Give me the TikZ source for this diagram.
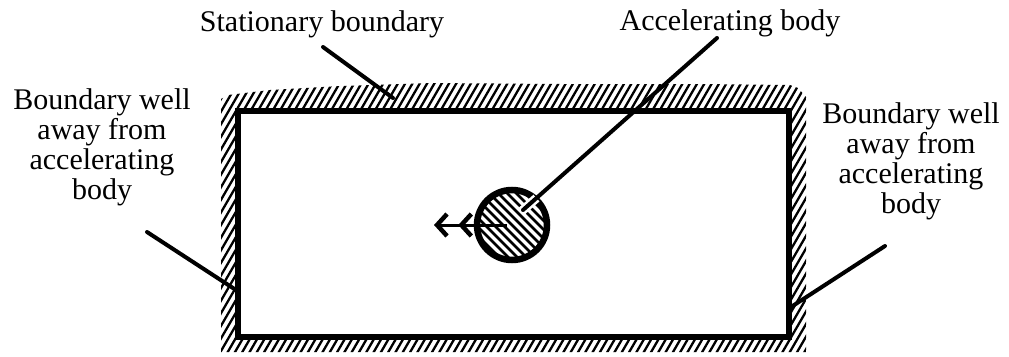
\documentclass[tikz,border=0pt]{standalone}
\usepackage{fontspec}
\setmainfont{Liberation Serif}
\usetikzlibrary{arrows.meta,calc}
\begin{document}
\begin{tikzpicture}[x=1pt,y=-1pt,
  lbl/.style={font=\fontsize{30}{30}\selectfont, inner sep=0pt},
  ptr/.style={line width=4pt, line cap=round},
  hatchline/.style={line width=2.3pt}
]
\useasboundingbox (0,0) rectangle (1009,356);
% hatched stationary boundary band
\begin{scope}
\clip (221,352) -- (221,99) -- (228,95) -- (270,90) -- (340,86) -- (430,83) -- (560,84) -- (700,84) -- (790,85) -- (798,88) -- (806,97) -- (806,352) -- cycle;
\foreach \i in {0,...,108} \draw[hatchline] (45+\i*7.3, 365) -- ++(168,-290);
\end{scope}
% fluid domain
\node[draw, line width=6pt, fill=white, minimum width=551pt, minimum height=226pt, inner sep=0pt] (box) at (513.5,224) {};
% accelerating body
\node[circle, draw, line width=6.5pt, minimum size=70pt, inner sep=0pt, fill=white,
  path picture={\foreach \k in {-6,...,6} \draw[line width=2.8pt] ([xshift=\k*9pt]path picture bounding box.center) ++(-50pt,50pt) -- ++(100pt,-100pt);}] (body) at (512,225) {};
\coordinate (tip) at (425,225);
\draw[line width=3pt, shorten <=5pt, -{Straight Barb[length=10pt,width=22pt,line width=4.5pt,sep=9pt]Straight Barb[length=10pt,width=22pt,line width=4.5pt,sep=9pt]}] (body.center) -- (tip);
% labels
\node[lbl, anchor=base] (stat) at (322,31) {Stationary boundary};
\node[lbl, anchor=base] (acc) at (730,30) {Accelerating body};
\node[lbl, align=center, anchor=north] (lft) at (102,88) {Boundary well\\away from\\accelerating\\body};
\node[lbl, align=center, anchor=north] (rgt) at (911,102) {Boundary well\\away from\\accelerating\\body};
% pointers
\coordinate (s1) at (323,47); \coordinate (s2) at (393,98);
\coordinate (a1) at (717,38); \coordinate (a2) at (523,210);
\coordinate (l1) at (147,232); \coordinate (l2) at (236,290);
\coordinate (r1) at (885,246); \coordinate (r2) at (791,307);
\draw[ptr] (s1) -- (s2);
\draw[white, line width=9pt] ($(a2)!18pt!(a1)$) -- ($(a2)!-3pt!(a1)$);
\draw[ptr] (a1) -- (a2);
\draw[ptr] (l1) -- (l2);
\draw[ptr] (r1) -- (r2);
\end{tikzpicture}
\end{document}
